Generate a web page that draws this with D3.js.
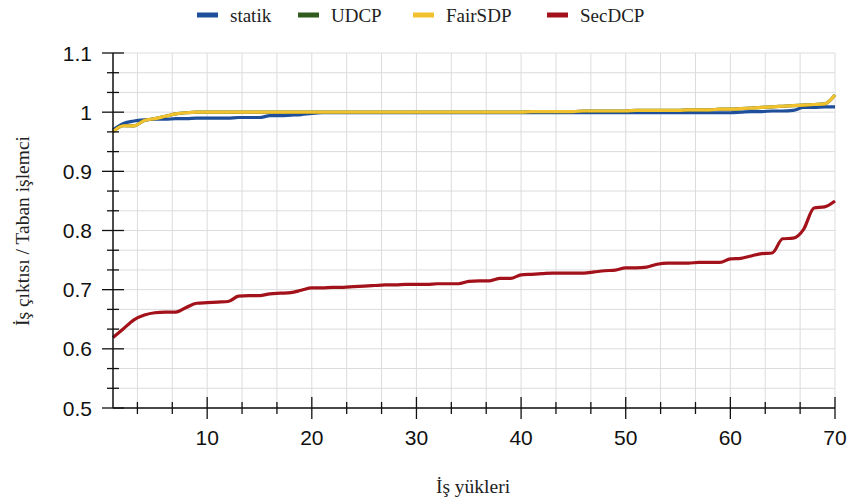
<!DOCTYPE html>
<html>
<head>
<meta charset="utf-8">
<script src="https://cdn.jsdelivr.net/npm/d3@7"></script>
<style>
  body { margin: 0; background: #fff; }
  svg { display: block; }
</style>
</head>
<body>
<svg id="chart"></svg>
<script>
const workloads = d3.range(1, 71);

const statik = [
  0.970, 0.981, 0.985, 0.987, 0.988, 0.988, 0.989, 0.989, 0.990, 0.990,
  0.990, 0.990, 0.991, 0.991, 0.991, 0.994, 0.994, 0.995, 0.996, 0.998,
  0.999, 0.999, 0.999, 0.999, 0.999, 0.999, 0.999, 0.999, 0.999, 0.999,
  0.999, 0.999, 0.999, 0.999, 0.999, 0.999, 0.999, 0.999, 0.999, 0.999,
  0.999, 0.999, 0.999, 0.999, 0.999, 0.999, 0.999, 0.999, 0.999, 0.999,
  0.999, 0.999, 0.999, 0.999, 0.999, 0.999, 0.999, 0.999, 0.999, 0.999,
  1.000, 1.001, 1.001, 1.002, 1.002, 1.003, 1.008, 1.008, 1.009, 1.009
];
const udcp = [
  0.967, 0.977, 0.977, 0.986, 0.989, 0.993, 0.997, 0.999, 1.000, 1.000,
  1.000, 1.000, 1.000, 1.000, 1.000, 1.000, 1.000, 1.000, 1.000, 1.000,
  1.000, 1.000, 1.000, 1.000, 1.000, 1.000, 1.000, 1.000, 1.000, 1.000,
  1.000, 1.000, 1.000, 1.000, 1.000, 1.000, 1.000, 1.000, 1.000, 1.000,
  1.001, 1.001, 1.001, 1.001, 1.001, 1.002, 1.002, 1.002, 1.002, 1.002,
  1.003, 1.003, 1.003, 1.003, 1.003, 1.004, 1.004, 1.004, 1.005, 1.005,
  1.006, 1.007, 1.008, 1.009, 1.010, 1.011, 1.012, 1.013, 1.014, 1.029
];
const fairSDP = [
  0.967, 0.977, 0.977, 0.986, 0.989, 0.993, 0.997, 0.999, 1.000, 1.000,
  1.000, 1.000, 1.000, 1.000, 1.000, 1.000, 1.000, 1.000, 1.000, 1.000,
  1.000, 1.000, 1.000, 1.000, 1.000, 1.000, 1.000, 1.000, 1.000, 1.000,
  1.000, 1.000, 1.000, 1.000, 1.000, 1.000, 1.000, 1.000, 1.000, 1.000,
  1.001, 1.001, 1.001, 1.001, 1.001, 1.002, 1.002, 1.002, 1.002, 1.002,
  1.003, 1.003, 1.003, 1.003, 1.003, 1.004, 1.004, 1.004, 1.005, 1.005,
  1.006, 1.007, 1.008, 1.009, 1.010, 1.011, 1.012, 1.013, 1.014, 1.029
];
const secDCP = [
  0.619, 0.634, 0.649, 0.657, 0.661, 0.662, 0.662, 0.670, 0.677, 0.678,
  0.679, 0.680, 0.689, 0.690, 0.690, 0.693, 0.694, 0.695, 0.699, 0.703,
  0.703, 0.704, 0.704, 0.705, 0.706, 0.707, 0.708, 0.708, 0.709, 0.709,
  0.709, 0.710, 0.710, 0.710, 0.714, 0.715, 0.715, 0.719, 0.719, 0.725,
  0.726, 0.727, 0.728, 0.728, 0.728, 0.728, 0.730, 0.732, 0.733, 0.737,
  0.737, 0.738, 0.743, 0.745, 0.745, 0.745, 0.746, 0.746, 0.746, 0.752,
  0.753, 0.757, 0.761, 0.762, 0.786, 0.787, 0.802, 0.838, 0.840, 0.850
];

const seriesNames = ['statik', 'UDCP', 'FairSDP', 'SecDCP'];
const seriesColors = ['#1f4e9a', '#2f5b1c', '#f2c12e', '#a3121a'];
const seriesValues = [statik, udcp, fairSDP, secDCP];

const xMajorTicks = [10, 20, 30, 40, 50, 60, 70];
const yMajorTicks = [0.5, 0.6, 0.7, 0.8, 0.9, 1.0, 1.1];
const xTitle = 'İş yükleri';
const yTitle = 'İş çıktısı / Taban işlemci';

const width = 847;
const height = 503;
const margin = { top: 53, right: 12, bottom: 95, left: 113 };

const tickFont = '"Liberation Sans Narrow", "Arial Narrow", "Liberation Sans", Arial, sans-serif';
const serifFont = '"Liberation Serif", "Times New Roman", serif';

const svg = d3.select('#chart').attr('width', width).attr('height', height);

const x = d3.scaleLinear().domain([1, 70]).range([margin.left, width - margin.right]);
const y = d3.scaleLinear().domain([0.5, 1.1]).range([height - margin.bottom, margin.top]);

// minor steps: three per major interval on both axes
const xGrid = d3.range(0, 22).map((k) => (k * 10) / 3).filter((v) => v >= 1 && v <= 70.01);
const yGrid = d3.range(0, 19).map((k) => 0.5 + k * 0.1 / 3);

const grid = svg.append('g').attr('class', 'grid');
grid.selectAll('line.gx')
  .data(xGrid)
  .join('line')
  .attr('class', 'gx')
  .attr('x1', (d) => x(d)).attr('x2', (d) => x(d))
  .attr('y1', y(0.5)).attr('y2', y(1.1))
  .attr('stroke', '#dcdcdc').attr('stroke-width', 1);
grid.selectAll('line.gy')
  .data(yGrid)
  .join('line')
  .attr('class', 'gy')
  .attr('x1', x(1)).attr('x2', x(70))
  .attr('y1', (d) => y(d)).attr('y2', (d) => y(d))
  .attr('stroke', '#dcdcdc').attr('stroke-width', 1);

// lines
const line = d3.line()
  .x((d, i) => x(workloads[i]))
  .y((d) => y(d))
  .curve(d3.curveMonotoneX);

svg.append('g')
  .selectAll('path')
  .data(seriesValues)
  .join('path')
  .attr('d', (d) => line(d))
  .attr('fill', 'none')
  .attr('stroke', (d, i) => seriesColors[i])
  .attr('stroke-width', 3.2)
  .attr('stroke-linejoin', 'round');

// axes
const isMajorX = (d) => xMajorTicks.some((m) => Math.abs(m - d) < 1e-6);

const xAxisG = svg.append('g').attr('transform', `translate(0,${y(0.5)})`);
xAxisG.append('line')
  .attr('x1', x(1)).attr('x2', x(70))
  .attr('stroke', '#111').attr('stroke-width', 1.5);
xAxisG.selectAll('line.tick')
  .data(xGrid)
  .join('line')
  .attr('class', 'tick')
  .attr('x1', (d) => x(d)).attr('x2', (d) => x(d))
  .attr('y1', (d) => (isMajorX(d) ? -11 : -6))
  .attr('y2', (d) => (isMajorX(d) ? 11 : 6))
  .attr('stroke', '#111').attr('stroke-width', 1.3);
xAxisG.selectAll('text')
  .data(xMajorTicks)
  .join('text')
  .attr('x', (d) => x(d))
  .attr('y', 37)
  .attr('text-anchor', 'middle')
  .attr('font-family', tickFont)
  .attr('font-size', 21)
  .attr('fill', '#111')
  .text((d) => d);

const yAxisG = svg.append('g').attr('transform', `translate(${x(1)},0)`);
yAxisG.append('line')
  .attr('y1', y(0.5)).attr('y2', y(1.1))
  .attr('stroke', '#111').attr('stroke-width', 1.5);
yAxisG.selectAll('line.tick')
  .data(yGrid)
  .join('line')
  .attr('class', 'tick')
  .attr('y1', (d) => y(d)).attr('y2', (d) => y(d))
  .attr('x1', (d, i) => (i % 3 === 0 ? -11 : -6))
  .attr('x2', (d, i) => (i % 3 === 0 ? 11 : 6))
  .attr('stroke', '#111').attr('stroke-width', 1.3);
yAxisG.selectAll('text')
  .data(yMajorTicks)
  .join('text')
  .attr('x', -21)
  .attr('y', (d) => y(d))
  .attr('dy', '0.36em')
  .attr('text-anchor', 'end')
  .attr('font-family', tickFont)
  .attr('font-size', 21)
  .attr('fill', '#111')
  .text((d) => d3.format('~g')(d));

// axis titles
svg.append('text')
  .attr('x', 473)
  .attr('y', 493)
  .attr('text-anchor', 'middle')
  .attr('font-family', serifFont)
  .attr('font-size', 19.5)
  .attr('fill', '#222')
  .text(xTitle);

svg.append('text')
  .attr('transform', `translate(29,231) rotate(-90)`)
  .attr('text-anchor', 'middle')
  .attr('font-family', serifFont)
  .attr('font-size', 19.5)
  .attr('fill', '#222')
  .text(yTitle);

// legend
const legendX = [197, 298, 413, 547];
const legend = svg.append('g')
  .selectAll('g')
  .data(seriesNames)
  .join('g')
  .attr('transform', (d, i) => `translate(${legendX[i]},15)`);
legend.append('rect')
  .attr('x', 0).attr('y', -2.5)
  .attr('width', 21).attr('height', 5)
  .attr('fill', (d, i) => seriesColors[i]);
legend.append('text')
  .attr('x', 33)
  .attr('dy', '0.35em')
  .attr('font-family', serifFont)
  .attr('font-size', 19)
  .attr('fill', '#222')
  .text((d) => d);
</script>
</body>
</html>
